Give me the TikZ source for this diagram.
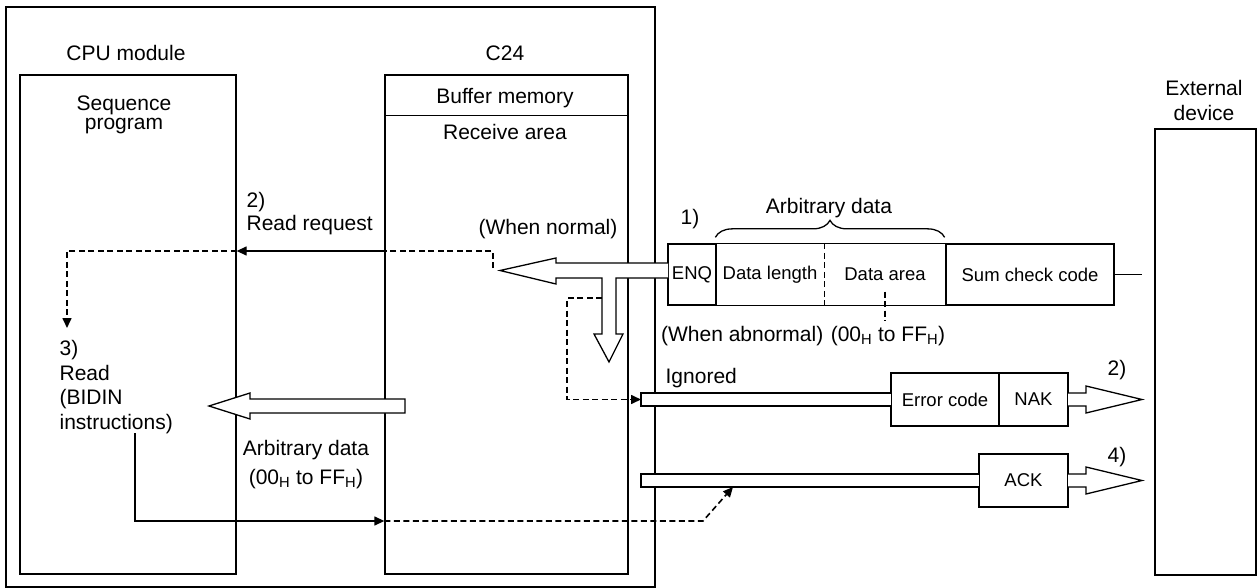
\documentclass[tikz,border=0pt]{standalone}
\usepackage{fontspec}
\setmainfont{Liberation Sans}
\usetikzlibrary{calc, arrows.meta, decorations.pathreplacing}

\begin{document}
\begin{tikzpicture}[x=1pt, y=-1pt, line width=1.3pt,
    box/.style={draw, inner sep=0pt},
    lbl/.style={font=\fontsize{21}{24}\selectfont, inner sep=0pt},
    cell/.style={draw, font=\fontsize{18.5}{21}\selectfont, inner sep=0pt, minimum height=53pt},
    hollow/.style={draw, fill=white},
    dsh/.style={line width=1.6pt, dash pattern=on 6pt off 3.5pt},
    tip/.style={-{Triangle[length=10pt, width=9pt]}}]

    \useasboundingbox (0,0) rectangle (1258,588);

    % Frame round the CPU module and the C24
    \node[box, minimum width=649pt, minimum height=580pt] (frame) at (330.5,297) {};

    % Modules and the external device
    \node[box, minimum width=216pt, minimum height=499pt] (cpu) at (128,324.5) {};
    \node[box, minimum width=243pt, minimum height=499pt] (c24) at (506.5,324.5) {};
    \node[box, minimum width=101pt, minimum height=446pt] (ext) at (1205.5,352) {};
    \draw ($(c24.north west)+(0,41)$) -- ($(c24.north east)+(0,41)$); % buffer memory row

    % Titles
    \node[lbl, anchor=base] (cpulbl) at (126,61) {CPU module};
    \node[lbl, anchor=base] (c24lbl) at (505,61) {C24};
    \node[lbl, font=\fontsize{21}{19.5}\selectfont, align=center, anchor=north] (seq) at (124,95) {Sequence\\program};
    \node[lbl, anchor=base] (buf) at (505,104) {Buffer memory};
    \node[lbl, anchor=base] (recv) at (505,140) {Receive area};
    \node[lbl, font=\fontsize{21}{24.5}\selectfont, align=center, anchor=north] (extlbl) at (1204,80) {External\\device};

    % Received message
    \node[cell, minimum height=61pt, minimum width=48pt] (enq) at (692,274.5) {ENQ};
    \node[cell, minimum height=61pt, draw=none, minimum width=108pt] (dlen) at (770,274.5) {Data length};
    \node[cell, minimum height=61pt, draw=none, minimum width=122pt] (darea) at (885,274.5) {Data area};
    \node[cell, minimum height=61pt, minimum width=168pt] (sum) at (1030,274.5) {Sum check code};
    \draw (dlen.north west) -- (darea.north east) (dlen.south west) -- (darea.south east);
    \draw[dsh] (dlen.north east) -- (dlen.south east);
    \coordinate (lineEnd) at (1142,274.5);
    \draw (sum.east) -- (lineEnd);

    \node[lbl, anchor=base] (one) at (690,225) {1)};
    \node[lbl, anchor=base] (arb) at (829,214) {Arbitrary data};
    \draw[decorate, decoration={brace, amplitude=17pt}] ($(dlen.north west)+(0,-6)$) -- ($(darea.north east)+(-2,-6)$);

    \node[lbl, anchor=base east] (abn) at (824,341) {(When abnormal)};
    \node[lbl, anchor=base] (hex1) at (888,341) {(00\textsubscript{H} to FF\textsubscript{H})};
    \draw[dsh] ($(darea.center)+(0,17)$) -- ($(darea.center |- hex1.north)+(0,-5)$);

    % Replies
    \node[cell, minimum width=108pt] (err) at (945,399.5) {Error code};
    \node[cell, minimum width=69pt] (nak) at (1033.5,399.5) {NAK};
    \node[cell, minimum width=89pt] (ack) at (1023.5,480.5) {ACK};
    \node[lbl, anchor=base west] (ign) at (665,383) {Ignored};
    \node[lbl, anchor=base] (two) at (1117,375) {2)};
    \node[lbl, anchor=base] (four) at (1117,462) {4)};

    % Other labels
    \node[lbl, font=\fontsize{21}{23}\selectfont, align=left, anchor=north west] (req) at (246,192) {2)\\Read request};
    \node[lbl, anchor=base] (normal) at (548,235) {(When normal)};
    \node[lbl, font=\fontsize{21}{24.5}\selectfont, align=left, anchor=north west] (read) at (59,340) {3)\\Read\\(BIDIN\\instructions)};
    \node[lbl, font=\fontsize{21}{28.5}\selectfont, align=center, anchor=north] (arbdata) at (306,440) {Arbitrary data\\(00\textsubscript{H} to FF\textsubscript{H})};

    % Hollow arrows
    \draw[hollow] (668,263) -- (556,263) -- (556,258) -- (500,270.5) -- (556,284) -- (556,278) -- (602,278)
        -- (602,334) -- (594,334) -- (609,362) -- (623,334) -- (616,334) -- (616,278) -- (668,278);
    \draw[hollow] (405,399) -- (250,399) -- (250,393) -- (209,406) -- (250,419) -- (250,413) -- (405,413) -- cycle;
    \draw[hollow] (891,393) -- (641,393) -- (641,406) -- (891,406);
    \draw[hollow] (1068,393) -- (1086,393) -- (1086,386) -- (1142,399.5) -- (1086,413) -- (1086,406) -- (1068,406);
    \draw[hollow] (979,474) -- (641,474) -- (641,487) -- (979,487);
    \draw[hollow] (1068,474) -- (1086,474) -- (1086,467) -- (1142,480.5) -- (1086,494) -- (1086,487) -- (1068,487);

    % Request and read flow
    \coordinate (nTip) at (493,268);
    \coordinate (reqR) at (493,251);
    \coordinate (readTop) at (67,328);
    \draw[dsh] (nTip) -- (reqR) -- (c24.west |- reqR);
    \draw[tip] (c24.west |- reqR) -- (cpu.east |- reqR);
    \draw[dsh, tip] (cpu.east |- reqR) -| (readTop);

    \coordinate (branchL) at (602,298);
    \coordinate (ignIn) at (641,399.5);
    \draw[dsh, tip] (branchL) -- (567,298) |- (ignIn);

    \coordinate (rdFoot) at (135,433);
    \coordinate (bendB) at (703,521);
    \coordinate (ackFoot) at (733,487);
    \draw[tip] (rdFoot) |- (c24.west |- bendB);
    \draw[dsh, tip] (c24.west |- bendB) -- (bendB) -- (ackFoot);

\end{tikzpicture}
\end{document}
